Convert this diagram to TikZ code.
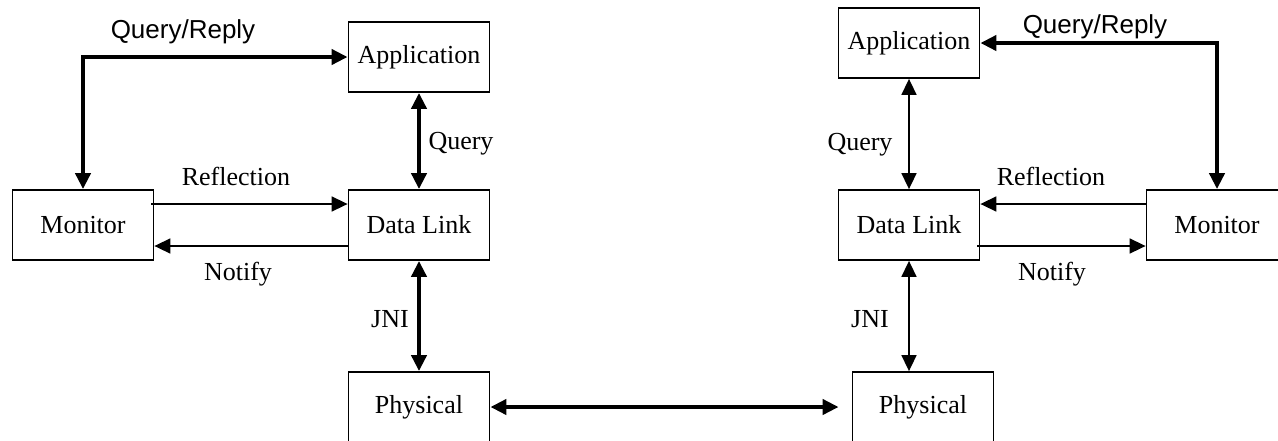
\documentclass[tikz,border=0pt]{standalone}
\usepackage{fontspec}
\setmainfont{Liberation Serif}
\newfontfamily\labelsans{Liberation Sans}
\usepackage{tikz}
\usetikzlibrary{arrows.meta}
\usetikzlibrary{positioning}
\tikzset{headtip/.tip = {Triangle[length=16pt, width=15pt]},
         layer/.style = {draw, line width=1.8pt, minimum width=141pt,
                         minimum height=70pt, inner sep=0pt},
         heavy/.style = {line width=4pt, headtip-headtip},
         light/.style = {line width=1.6pt},
         lbl/.style = {anchor=base, inner sep=0pt}}

\begin{document}
\begin{tikzpicture}[x=1pt, y=-1pt, font=\fontsize{26}{31}\selectfont]
      \useasboundingbox (0, 0) rectangle (1278, 440);

      % left host
      \node [layer] (appL) at (419, 57) {Application};
      \node [layer] (monL) at (83, 225) {Monitor};
      \node [layer] (dlL) at (419, 225) {Data Link};
      \node [layer] (phyL) at (419, 407) {Physical};

      % right host
      \node [layer] (appR) at (909, 43) {Application};
      \node [layer] (dlR) at (909, 225) {Data Link};
      \node [layer] (monR) at (1217, 225) {Monitor};
      \node [layer] (phyR) at (923, 407) {Physical};

      \draw [heavy] (monL.north) |- (appL.west);
      \draw [heavy] (appL.south) -- (dlL.north);
      \draw [light, -headtip] ([yshift=21pt, xshift=-3pt]monL.east) -- ([yshift=21pt]dlL.west);
      \draw [light, -headtip] ([yshift=-21pt]dlL.west) -- ([yshift=-21pt]monL.east);
      \draw [heavy] (dlL.south) -- (phyL.north);

      \draw [heavy, shorten >=13pt] (phyL.east) -- (phyL.east -| phyR.west);

      \draw [heavy] (appR.east) -| (monR.north);
      \draw [light, headtip-headtip] (appR.south) -- (dlR.north);
      \draw [light, -headtip] ([yshift=21pt]monR.west) -- ([yshift=21pt]dlR.east);
      \draw [light, -headtip] ([yshift=-21pt, xshift=-3pt]dlR.east) -- ([yshift=-21pt]monR.west);
      \draw [light, headtip-headtip] (dlR.south) -- (dlR.south |- phyR.north);

      \node [lbl, font=\fontsize{26}{31}\labelsans] (qrL) at (183, 38) {Query/Reply};
      \node [lbl] (qL) at (461, 149) {Query};
      \node [lbl] (rfL) at (236, 185) {Reflection};
      \node [lbl] (ntL) at (238, 280) {Notify};
      \node [lbl] (jniL) at (390, 327) {JNI};

      \node [lbl, font=\fontsize{26}{31}\labelsans] (qrR) at (1095, 33) {Query/Reply};
      \node [lbl] (qR) at (860, 150) {Query};
      \node [lbl] (rfR) at (1051, 185) {Reflection};
      \node [lbl] (ntR) at (1052, 280) {Notify};
      \node [lbl] (jniR) at (870, 327) {JNI};
    \end{tikzpicture}
\end{document}
